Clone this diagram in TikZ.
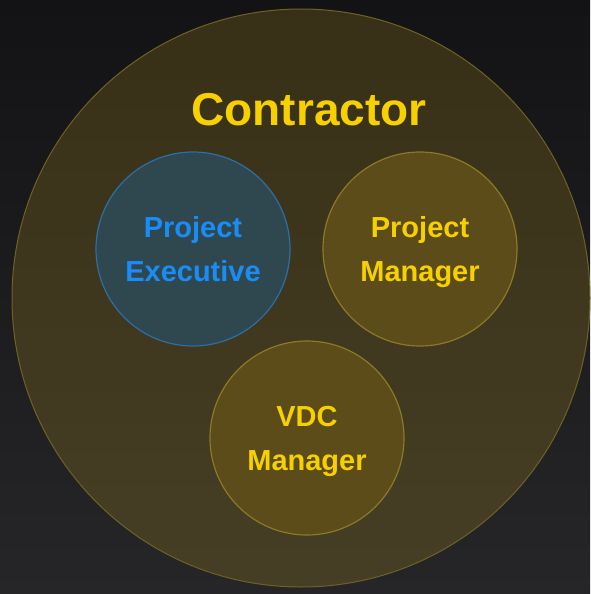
\documentclass[tikz,border=0pt]{standalone}
\usepackage{fontspec}
\setmainfont{Liberation Sans}

\definecolor{bgtop}{HTML}{131315}
\definecolor{bgbottom}{HTML}{262628}
\definecolor{gold}{HTML}{F7D000}
\definecolor{outerfill}{HTML}{C8A51E}
\definecolor{outerrim}{HTML}{6E6222}
\definecolor{rolefill}{HTML}{5B4C1A}
\definecolor{rolerim}{HTML}{8C7A24}
\definecolor{execfill}{HTML}{2F4850}
\definecolor{execrim}{HTML}{2C6EA6}
\definecolor{execblue}{HTML}{1A8CF5}

\tikzset{
	role/.style={circle, minimum size=194pt, inner sep=0pt, line width=1.2pt,
		align=center, text depth=0pt, font=\fontsize{29}{44}\selectfont\bfseries},
	goldrole/.style={role, draw=rolerim, fill=rolefill, text=gold},
	execrole/.style={role, draw=execrim, fill=execfill, text=execblue}
}

\begin{document}
\begin{tikzpicture}[x=1pt, y=-1pt]
			%%%%% START %%%%%
			
			\useasboundingbox (0, 0) rectangle (590, 594);
			\shade[top color=bgtop, bottom color=bgbottom] (0, 0) rectangle (590, 594);
			
			% the company ring
			\node[circle, minimum size=578pt, inner sep=0pt, line width=1pt,
				draw=outerrim, fill=outerfill, fill opacity=0.2] (contractor) at (301, 298) {};
			\node[anchor=base, text=gold, font=\fontsize{46}{50}\selectfont\bfseries]
				(contractor-title) at (309, 125) {Contractor};
			
			% roles inside it
			\node[execrole] (executive) at (193, 249) {Project\\Executive};
			\node[goldrole] (manager) at (420, 249) {Project\\Manager};
			\node[goldrole] (vdc) at (307, 438) {VDC\\Manager};
			
			%%%%% END %%%%%
		\end{tikzpicture}
\end{document}
